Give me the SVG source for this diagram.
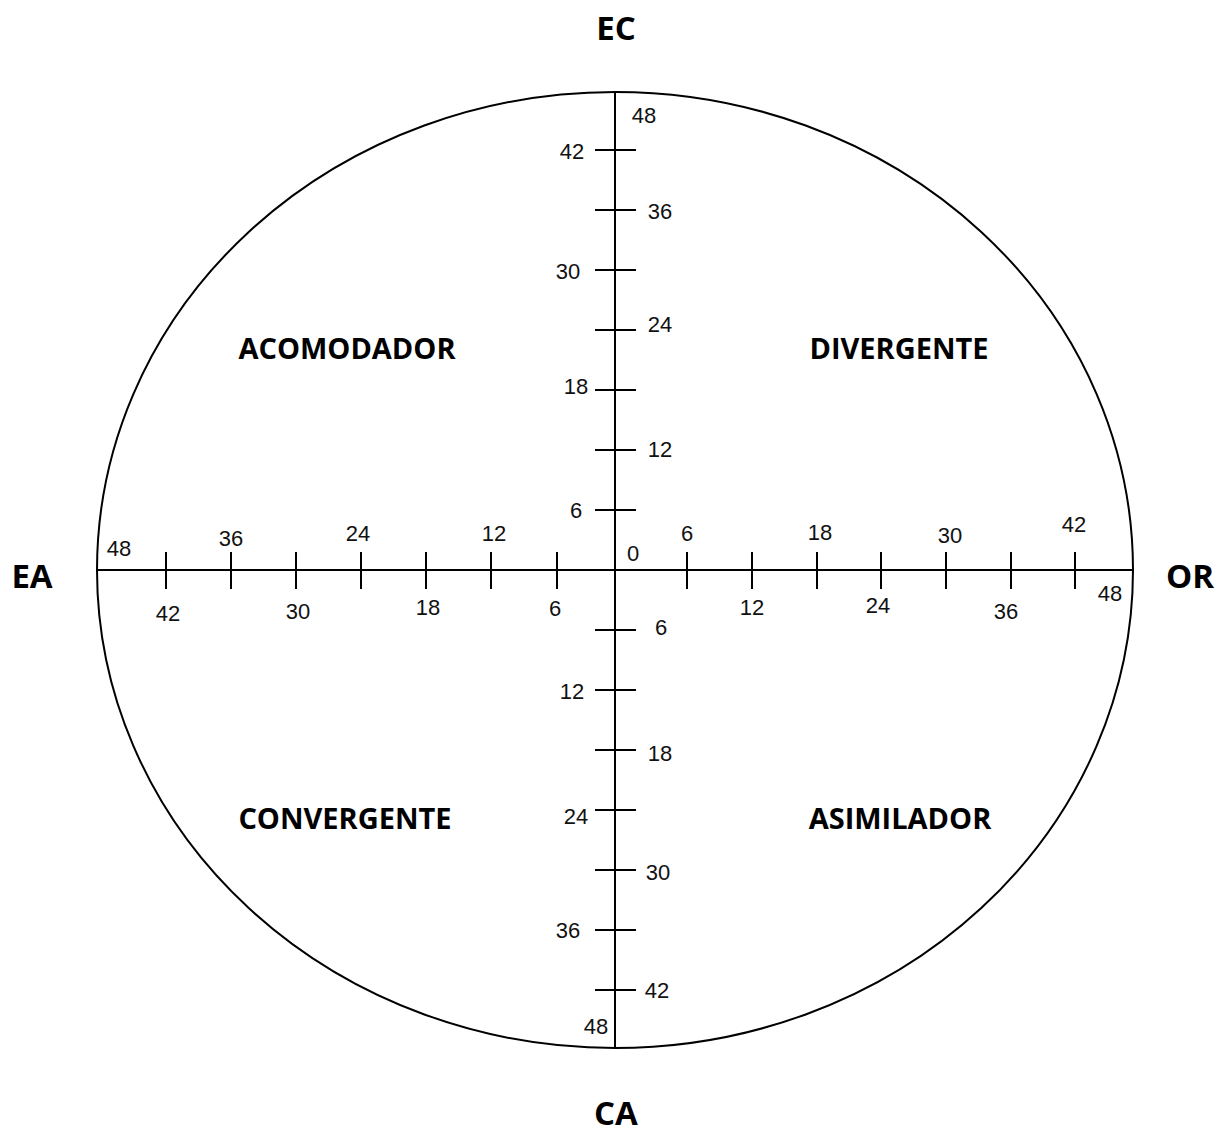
<svg xmlns="http://www.w3.org/2000/svg" width="1217" height="1134" viewBox="0 0 1217 1134">
<style>
.ln{stroke:#000;stroke-width:2;fill:none}
.n{font-family:"Liberation Sans",Arial,sans-serif;font-size:22px;fill:#111;text-anchor:middle}
.q{font-family:"Open Sans","Liberation Sans",sans-serif;font-weight:bold;font-size:29px;fill:#000;text-anchor:middle}
.c{font-family:"Open Sans","Liberation Sans",sans-serif;font-weight:bold;font-size:33px;fill:#000;text-anchor:middle}
</style>
<rect width="1217" height="1134" fill="#fff"/>
<g id="circle"><ellipse class="ln" cx="615" cy="570" rx="518" ry="478"/></g>
<g id="connectors">
<line class="ln" x1="615" y1="92" x2="615" y2="1048"/>
<line class="ln" x1="97" y1="570" x2="1133" y2="570"/>
<path class="ln" d="M595 150H636M595 210H636M595 270H636M595 330H636M595 390H636M595 450H636M595 510H636M595 630H636M595 690H636M595 750H636M595 810H636M595 870H636M595 930H636M595 990H636"/>
<path class="ln" d="M166 552V589M231 552V589M296 552V589M361 552V589M426 552V589M491 552V589M557 552V589M687 552V589M752 552V589M817 552V589M881 552V589M946 552V589M1011 552V589M1075 552V589"/>
</g>
<g id="vertical-scale">
<text class="n" x="644" y="123">48</text>
<text class="n" x="572" y="159">42</text>
<text class="n" x="660" y="219">36</text>
<text class="n" x="568" y="279">30</text>
<text class="n" x="660" y="332">24</text>
<text class="n" x="576" y="394">18</text>
<text class="n" x="660" y="457">12</text>
<text class="n" x="576" y="518">6</text>
<text class="n" x="633" y="561">0</text>
<text class="n" x="661" y="635">6</text>
<text class="n" x="572" y="699">12</text>
<text class="n" x="660" y="761">18</text>
<text class="n" x="576" y="824">24</text>
<text class="n" x="658" y="880">30</text>
<text class="n" x="568" y="938">36</text>
<text class="n" x="657" y="998">42</text>
<text class="n" x="596" y="1034">48</text>
</g>
<g id="horizontal-scale">
<text class="n" x="119" y="556">48</text>
<text class="n" x="231" y="546">36</text>
<text class="n" x="358" y="541">24</text>
<text class="n" x="494" y="541">12</text>
<text class="n" x="168" y="621">42</text>
<text class="n" x="298" y="619">30</text>
<text class="n" x="428" y="615">18</text>
<text class="n" x="555" y="616">6</text>
<text class="n" x="687" y="541">6</text>
<text class="n" x="820" y="540">18</text>
<text class="n" x="950" y="543">30</text>
<text class="n" x="1074" y="532">42</text>
<text class="n" x="752" y="615">12</text>
<text class="n" x="878" y="613">24</text>
<text class="n" x="1006" y="619">36</text>
<text class="n" x="1110" y="601">48</text>
</g>
<g id="EC"><text class="c" x="616" y="40">EC</text></g>
<g id="CA"><text class="c" x="616" y="1125">CA</text></g>
<g id="EA"><text class="c" x="32" y="588">EA</text></g>
<g id="OR"><text class="c" x="1190" y="588">OR</text></g>
<g id="acomodador"><text class="q" x="347" y="359">ACOMODADOR</text></g>
<g id="divergente"><text class="q" x="899" y="359">DIVERGENTE</text></g>
<g id="convergente"><text class="q" x="345" y="829">CONVERGENTE</text></g>
<g id="asimilador"><text class="q" x="900" y="829">ASIMILADOR</text></g>
</svg>
